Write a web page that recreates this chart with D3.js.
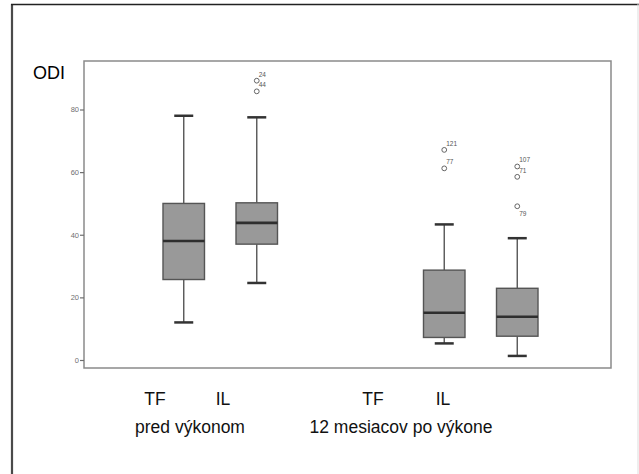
<!DOCTYPE html>
<html><head><meta charset="utf-8">
<script src="https://cdn.jsdelivr.net/npm/d3@7"></script>
<style>html,body{margin:0;padding:0;background:#fff;}svg{display:block;font-family:"Liberation Sans",Arial,sans-serif;}</style>
</head><body>
<script>
// ---- data ----
const groups = ["pred výkonom", "12 mesiacov po výkone"];
const subgroups = ["TF", "IL"];
const whiskerLow  = [12, 24.6, 5.3, 1.3];
const q1          = [25.7, 37, 7.2, 7.6];
const median      = [38, 43.8, 15.1, 13.8];
const q3          = [50, 50.2, 28.7, 22.9];
const whiskerHigh = [78, 77.5, 43.3, 38.9];
const outlierBox    = [1, 1, 2, 2, 3, 3, 3];
const outlierValues = [89.2, 85.8, 67.1, 61.2, 61.8, 58.5, 49.1];
const outlierIds    = ["24", "44", "121", "77", "107", "71", "79"];
const labelBelowIds = ["79"];
const yTicks = [0, 20, 40, 60, 80];
const yTitle = "ODI";

const W = 639, H = 474;
const svg = d3.select("body").append("svg").attr("width", W).attr("height", H);

// outer frame
svg.append("line").attr("x1", 12).attr("x2", 12).attr("y1", 4).attr("y2", H).attr("stroke", "#4a4a4a").attr("stroke-width", 2.2);
svg.append("line").attr("x1", 11).attr("x2", W).attr("y1", 4.5).attr("y2", 4.5).attr("stroke", "#222").attr("stroke-width", 1.5);
svg.append("line").attr("x1", 638).attr("x2", 638).attr("y1", 4).attr("y2", H).attr("stroke", "#ddd").attr("stroke-width", 1);

const plot = {left: 84, right: 611, top: 61, bottom: 368};
const y = d3.scaleLinear().domain([0, 80]).range([360, 109.5]);
const xg = d3.scaleBand().domain(groups).range([90, 611]);
const xs = d3.scalePoint().domain(subgroups).range([0, xg.bandwidth()]).padding(1.284);

const boxes = [];
groups.forEach((g, gi) => subgroups.forEach((s, si) => {
  const i = gi * 2 + si;
  boxes.push({cx: xg(g) + xs(s), lo: whiskerLow[i], q1: q1[i], med: median[i], q3: q3[i], hi: whiskerHigh[i]});
}));

// plot frame
svg.append("rect").attr("x", plot.left).attr("y", plot.top)
  .attr("width", plot.right - plot.left).attr("height", plot.bottom - plot.top)
  .attr("fill", "none").attr("stroke", "#8a8a8a").attr("stroke-width", 1.5);

// y axis
const yAxis = d3.axisLeft(y).tickValues(yTicks).tickSize(4).tickPadding(1);
const ga = svg.append("g").attr("transform", `translate(${plot.left},0)`)
  .attr("color", "#6f6f6f").attr("font-size", 7.5).attr("font-family", "Liberation Sans, Arial, sans-serif")
  .call(yAxis);
ga.select(".domain").remove();
ga.selectAll(".tick line").attr("stroke-width", 1.2);
ga.selectAll(".tick text").attr("font-size", 7.5);

svg.append("text").attr("x", 33).attr("y", 79).attr("font-size", 18).attr("fill", "#000").text(yTitle);

const bw = 41.5, capW = 19;
const gb = svg.append("g");
boxes.forEach(b => {
  const g = gb.append("g");
  g.append("line").attr("x1", b.cx).attr("x2", b.cx).attr("y1", y(b.hi)).attr("y2", y(b.q3)).attr("stroke", "#555").attr("stroke-width", 1.4);
  g.append("line").attr("x1", b.cx).attr("x2", b.cx).attr("y1", y(b.q1)).attr("y2", y(b.lo)).attr("stroke", "#555").attr("stroke-width", 1.4);
  g.append("line").attr("x1", b.cx - capW / 2).attr("x2", b.cx + capW / 2).attr("y1", y(b.hi)).attr("y2", y(b.hi)).attr("stroke", "#333").attr("stroke-width", 2.5);
  g.append("line").attr("x1", b.cx - capW / 2).attr("x2", b.cx + capW / 2).attr("y1", y(b.lo)).attr("y2", y(b.lo)).attr("stroke", "#333").attr("stroke-width", 2.5);
  g.append("rect").attr("x", b.cx - bw / 2).attr("y", y(b.q3)).attr("width", bw).attr("height", y(b.q1) - y(b.q3))
    .attr("fill", "#999").attr("stroke", "#555").attr("stroke-width", 1.4);
  g.append("line").attr("x1", b.cx - bw / 2).attr("x2", b.cx + bw / 2).attr("y1", y(b.med)).attr("y2", y(b.med)).attr("stroke", "#2e2e2e").attr("stroke-width", 2.6);
});

// outliers
outlierValues.forEach((v, i) => {
  const cx = boxes[outlierBox[i]].cx, cy = y(v);
  svg.append("circle").attr("cx", cx).attr("cy", cy).attr("r", 2.4).attr("fill", "none").attr("stroke", "#666").attr("stroke-width", 1);
  const below = labelBelowIds.includes(outlierIds[i]);
  svg.append("text").attr("x", cx + 2).attr("y", below ? cy + 10 : cy - 4)
    .attr("font-size", 6.5).attr("fill", "#555").text(outlierIds[i]);
});

// category labels
const subLabelX = [[155, 223], [373, 443]];
const groupLabelX = [190, 401];
groups.forEach((g, gi) => {
  subgroups.forEach((s, si) => {
    svg.append("text").attr("x", subLabelX[gi][si]).attr("y", 405).attr("text-anchor", "middle")
      .attr("font-size", 17.5).attr("fill", "#111").text(s);
  });
  svg.append("text").attr("x", groupLabelX[gi]).attr("y", 433).attr("text-anchor", "middle")
    .attr("font-size", 17.5).attr("fill", "#111").text(g);
});
</script>
</body></html>
